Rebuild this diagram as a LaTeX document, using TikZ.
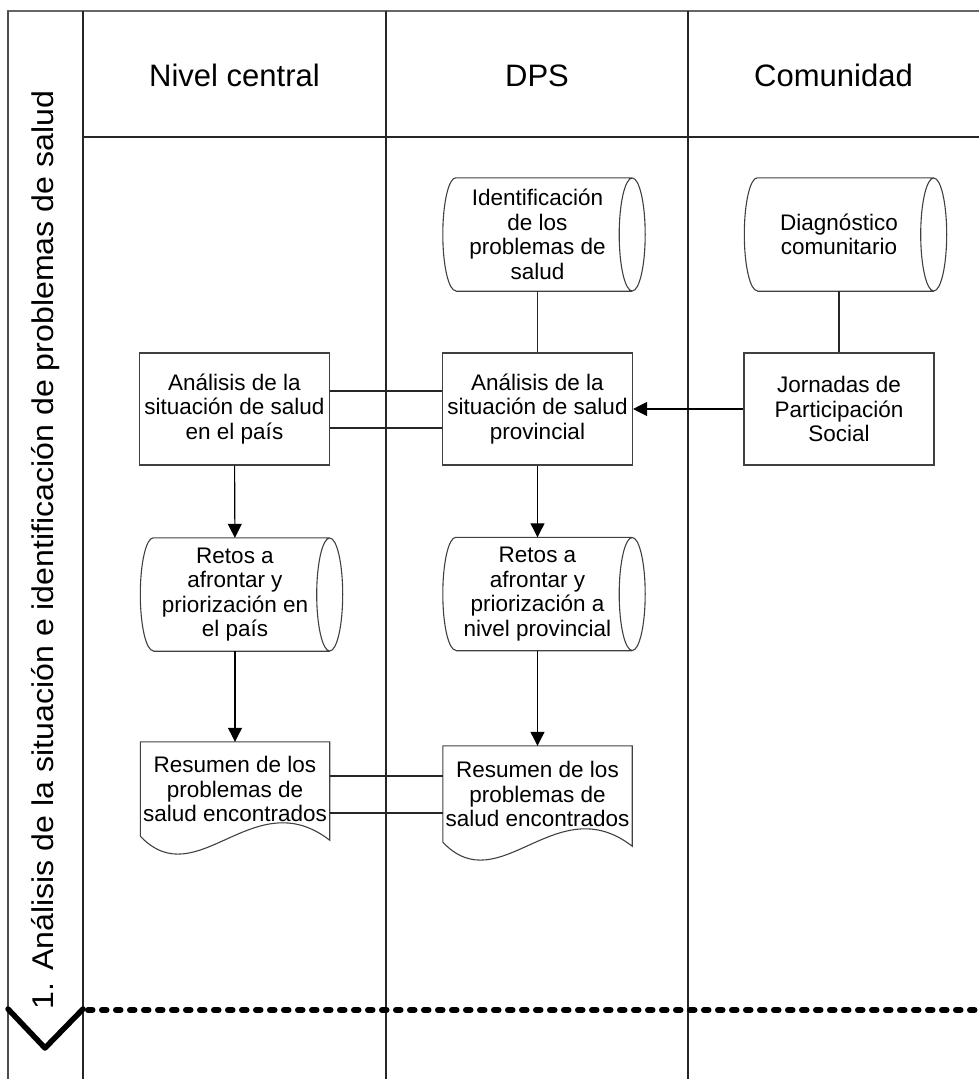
\documentclass[tikz,border=0pt]{standalone}
\usepackage{fontspec}
\setmainfont{Liberation Sans}
\usetikzlibrary{arrows.meta}

% Horizontal drum (stored data): half ellipse on the left, full ellipse on the right
\newcommand\drumshape[1]{%
  \draw[boxline] ([xshift=13pt]#1.north west) -- (#1.north east)
    ([xshift=13pt]#1.south west) -- (#1.south east)
    ([xshift=13pt]#1.north west) arc[start angle=90,end angle=270,x radius=13pt,y radius=56.5pt]
    (#1.east) ellipse[x radius=13pt,y radius=56.5pt];}

% Document: straight top and sides, wavy bottom edge
\newcommand\docshape[1]{%
  \draw[boxline] (#1.south west) -- (#1.north west) -- (#1.north east) -- ([yshift=-4pt]#1.south east)
    .. controls ([xshift=113pt,yshift=55pt]#1.south west) and ([xshift=57pt,yshift=-60pt]#1.south west) .. (#1.south west);}

\begin{document}
\begin{tikzpicture}[x=1pt,y=-1pt,
  frame/.style={line width=1.2pt,draw=black!85},
  boxline/.style={line width=1.1pt,draw=black!75},
  link/.style={line width=1.1pt,draw=black!85},
  flow/.style={link,-{Triangle[length=14pt,width=14pt]},black},
  boxtext/.style={font=\fontsize{22.5}{24.5}\selectfont,align=center,inner sep=0pt,text=black},
  procbox/.style={boxtext,boxline,minimum width=190pt,minimum height=112pt},
  drum/.style={boxtext,minimum width=189pt,minimum height=113pt},
  docbox/.style={boxtext,minimum width=189pt},
  lanehead/.style={font=\fontsize{31}{36}\selectfont,anchor=base}
]
\useasboundingbox (0,0) rectangle (979,1079);

% swimlane frame
\draw[line width=2.8pt,draw=black!60] (7,11) -- (979,11);
\draw[line width=1.8pt,draw=black!70] (8,11) -- (8,1079);
\draw[frame] (83,11) -- (83,1079);
\draw[frame] (386,11) -- (386,1079);
\draw[frame] (688,11) -- (688,1079);
\draw[frame] (83,137) -- (979,137);

% lane headings
\node[lanehead] (hN) at (234.5,86) {Nivel central};
\node[lanehead] (hD) at (537,86) {DPS};
\node[lanehead] (hC) at (833.5,86) {Comunidad};

% phase label
\node[rotate=90,anchor=base,font=\fontsize{30}{36}\selectfont] (phase) at (53,550)
  {\scalebox{1.07}[1]{1. Análisis de la situación e identificación de problemas de salud}};

% phase separator
\draw[line width=6pt,line cap=round,dash pattern=on 4.5pt off 9.5pt] (88,1010) -- (979,1010);
\draw[line width=5.5pt,line cap=round,line join=round] (8,1009) -- (45,1048) -- (83,1009);

% shapes
\node[drum] (idp) at (537.5,234.5) {Identificación\\de los\\problemas de\\salud};
\node[drum] (diag) at (839,234.5) {Diagnóstico\\comunitario};
\node[procbox] (anN) at (234.5,409) {Análisis de la\\situación de salud\\en el país};
\node[procbox] (anD) at (537.5,409) {Análisis de la\\situación de salud\\provincial};
\node[procbox] (jor) at (839,409) {Jornadas de\\Participación\\Social};
\node[drum] (retN) at (235,594.5) {Retos a\\afrontar y\\priorización en\\el país};
\node[drum] (retD) at (537.5,594) {Retos a\\afrontar y\\priorización a\\nivel provincial};
\node[docbox,minimum height=94pt] (resN) at (235,789) {Resumen de los\\problemas de\\salud encontrados};
\node[docbox,minimum height=96pt] (resD) at (537.5,794) {Resumen de los\\problemas de\\salud encontrados};

\drumshape{idp}
\drumshape{diag}
\drumshape{retN}
\drumshape{retD}
\docshape{resN}
\docshape{resD}

% connectors
\coordinate (ya) at (0,391);
\coordinate (yb) at (0,428);
\coordinate (yc) at (0,776);
\coordinate (yd) at (0,813);
\draw[link] (idp) -- (anD);
\draw[link] (diag) -- (jor);
\draw[flow] (jor) -- (anD);
\draw[link] (anN.east |- ya) -- (anD.west |- ya);
\draw[link] (anN.east |- yb) -- (anD.west |- yb);
\draw[flow] (anN) -- (retN);
\draw[flow] (anD) -- (retD);
\draw[flow] (retN) -- (resN);
\draw[flow] (retD) -- (resD);
\draw[link] (resN.east |- yc) -- (resD.west |- yc);
\draw[link] (resN.east |- yd) -- (resD.west |- yd);
\end{tikzpicture}
\end{document}
